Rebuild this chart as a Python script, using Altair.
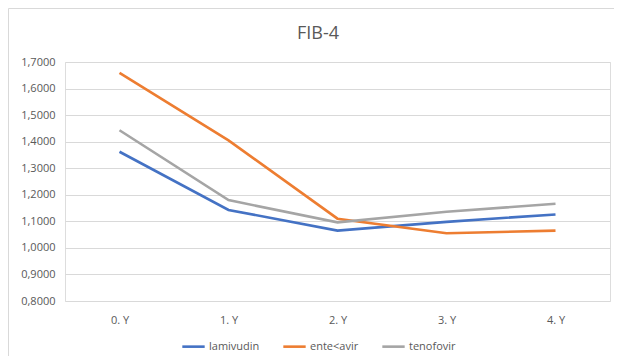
import altair as alt
import pandas as pd

years = ["0. Y", "1. Y", "2. Y", "3. Y", "4. Y"]
series = ["lamivudin", "ente<avir", "tenofovir"]
lamivudin = [1.362, 1.143, 1.065, 1.098, 1.126]
entekavir = [1.659, 1.405, 1.110, 1.055, 1.065]
tenofovir = [1.443, 1.180, 1.096, 1.136, 1.166]
colors = ["#4472C4", "#ED7D31", "#A5A5A5"]
title_text = ["FIB-4"]

rows = []
for name, vals in zip(series, [lamivudin, entekavir, tenofovir]):
    for y, v in zip(years, vals):
        rows.append({"year": y, "series": name, "value": v})
df = pd.DataFrame(rows)

lines = alt.Chart(df).mark_line(strokeWidth=2.6, clip=False).encode(
    x=alt.X("year:N", sort=years, title=None,
            scale=alt.Scale(paddingInner=1, paddingOuter=0.5),
            axis=alt.Axis(labelAngle=0, domain=False, ticks=False, labelPadding=13,
                          labelColor="#595959", labelFontSize=11, labelFont="Open Sans")),
    y=alt.Y("value:Q", title=None,
            scale=alt.Scale(domain=[0.8, 1.7], nice=False, zero=False),
            axis=alt.Axis(values=[0.8, 0.9, 1.0, 1.1, 1.2, 1.3, 1.4, 1.5, 1.6, 1.7],
                          labelExpr="replace(format(datum.value, '.4f'), '.', ',')",
                          domain=False, ticks=False, labelPadding=10,
                          labelColor="#595959", labelFontSize=11, labelFont="Open Sans",
                          gridColor="#D9D9D9", gridWidth=1.2)),
    color=alt.Color("series:N", sort=series,
                    scale=alt.Scale(domain=series, range=colors),
                    legend=alt.Legend(title=None, orient="none", direction="horizontal",
                                      legendX=116, legendY=272, symbolType="stroke",
                                      symbolStrokeWidth=2.6, symbolSize=500,
                                      labelColor="#595959", labelFontSize=11,
                                      labelFont="Open Sans", columnPadding=18,
                                      labelOffset=3)),
)

one = pd.DataFrame({"a": [0]})
frame_top = alt.Chart(one).mark_rule(stroke="#D9D9D9", strokeWidth=1, clip=False).encode(
    x=alt.value(-56.5), x2=alt.value(549), y=alt.value(-53.5))
frame_left = alt.Chart(one).mark_rule(stroke="#D9D9D9", strokeWidth=1, clip=False).encode(
    x=alt.value(-56.5), y=alt.value(-53.5), y2=alt.value(294))

title = alt.Chart(pd.DataFrame({"t": title_text})).mark_text(
    fontSize=18, color="#595959", font="Open Sans", baseline="alphabetic",
    align="center", clip=False
).encode(text="t:N", x=alt.value(253), y=alt.value(-23))

chart = alt.layer(frame_top, frame_left, title, lines).properties(
    width=545, height=239,
    padding={"left": 57, "top": 54, "right": 4, "bottom": 55},
    autosize=alt.AutoSizeParams(type="none"),
).configure_view(strokeWidth=0).configure(background="white")

chart.save("out.html", embed_options={"renderer": "svg", "actions": False})
